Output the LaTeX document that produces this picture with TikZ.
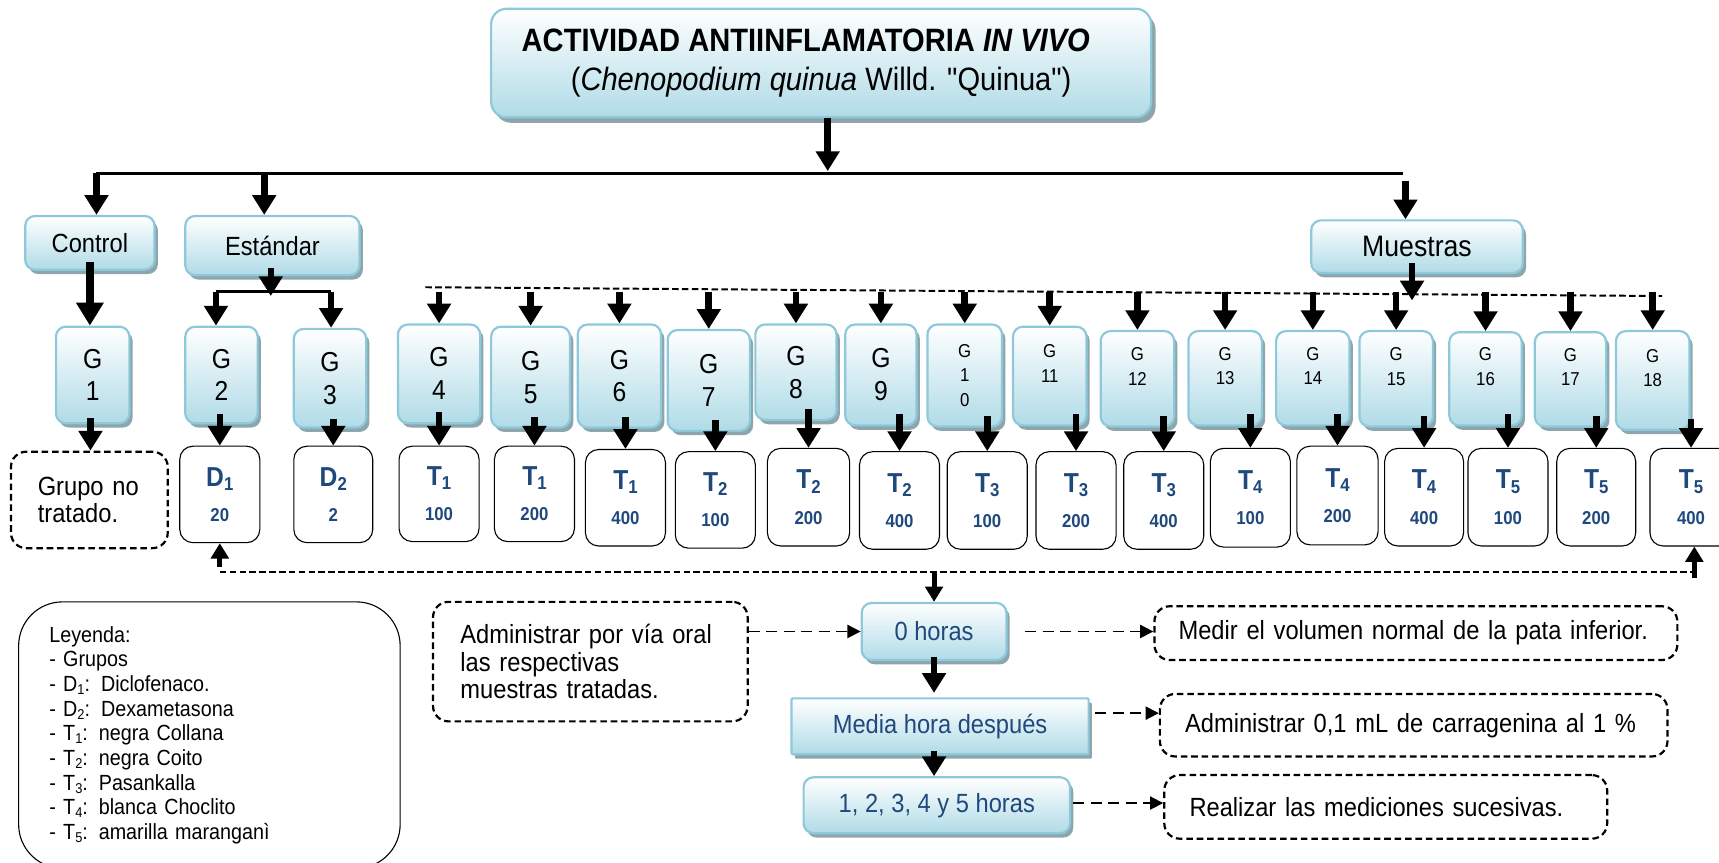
\documentclass[tikz,border=0pt]{standalone}
\usepackage{fontspec}
\setmainfont{Liberation Sans}[FakeStretch=0.9, Ligatures=TeXOff]
\usetikzlibrary{arrows.meta,shadows,calc}

\definecolor{boxline}{RGB}{141,201,218}
\definecolor{boxbot}{RGB}{176,219,231}
\definecolor{boxshade}{RGB}{140,166,172}
\definecolor{labelblue}{RGB}{31,73,125}

\newcommand{\fs}[2]{\fontsize{#1}{#2}\selectfont}
\newcommand{\lowidx}[2]{\raisebox{-0.28ex}{\fs{#1}{#1}#2}}
\newcommand{\dose}[3]{{\fs{25}{32}#1\lowidx{17}{#2}}\\#3}
\newcommand{\leg}[2]{- #1\lowidx{13}{#2}:}

\tikzset{
  glossy/.style={draw=boxline, line width=2pt, rounded corners=9pt,
    top color=white, bottom color=boxbot,
    drop shadow={shadow xshift=3pt, shadow yshift=-4pt, fill=boxshade, opacity=1},
    inner sep=0pt, align=center},
  gbig/.style={glossy, font=\fs{25}{30}},
  gsmall/.style={glossy, font=\fs{17}{22.5}},
  hourbox/.style={glossy, text=labelblue, font=\fs{24}{28}},
  dosebox/.style={draw=black, line width=1pt, rounded corners=12pt, fill=white,
    inner sep=0pt, align=center, text=labelblue, font=\fs{17}{32}\bfseries},
  notebox/.style={draw=black, line width=2pt, dash pattern=on 6pt off 3.5pt,
    rounded corners=14pt, inner sep=0pt, align=left, font=\fs{24}{25}},
  legendbox/.style={draw=black, line width=1pt, rounded corners=40pt,
    inner sep=0pt, align=left, font=\fs{20}{22.5}},
  arr/.style={line width=6pt, -{Triangle[width=21pt,length=18pt]}},
  bigarr/.style={line width=8pt, -{Triangle[width=24pt,length=21pt]}},
  smallarr/.style={line width=4.5pt, -{Triangle[width=16pt,length=14pt]}},
  dotline/.style={line width=1.8pt, dash pattern=on 6pt off 3pt},
  darr/.style={line width=1.6pt, dash pattern=on 10pt off 6pt,
    -{Triangle[width=12pt,length=12pt]}}
}

\begin{document}
\begin{tikzpicture}[x=1pt,y=-1pt]
\useasboundingbox (0,0) rectangle (1568,787);

% title
\node[glossy, rounded corners=14pt, minimum width=602pt, minimum height=99pt,
  drop shadow={shadow xshift=4pt, shadow yshift=-5pt, fill=boxshade, opacity=1},
  font=\fs{29.5}{35}] (title) at (749,57.5)
  {\bfseries ACTIVIDAD ANTIINFLAMATORIA \textit{IN VIVO}\hspace*{28pt}\\
   (\textit{Chenopodium quinua} Willd. "Quinua")};

% first level
\node[glossy, font=\fs{24}{28}, minimum width=118pt, minimum height=49pt] (control) at (82,221.5) {Control};
\node[glossy, font=\fs{24}{28}, minimum width=159pt, minimum height=54pt] (std) at (248.5,224) {Estándar};
\node[glossy, font=\fs{27}{30}, minimum width=193pt, minimum height=48pt] (mue) at (1292.5,225) {Muestras};

% groups
\node[gbig, minimum width=67pt, minimum height=88pt] (g1) at (84.5,342) {G\\1};
\node[gbig, minimum width=66pt, minimum height=88pt] (g2) at (202,342) {G\\2};
\node[gbig, minimum width=66pt, minimum height=90pt] (g3) at (301,345) {G\\3};
\node[gbig, minimum width=75pt, minimum height=90pt] (g4) at (400.5,341) {G\\4};
\node[gbig, minimum width=72pt, minimum height=92pt] (g5) at (484,344) {G\\5};
\node[gbig, minimum width=76pt, minimum height=94pt] (g6) at (565,343) {G\\6};
\node[gbig, minimum width=75pt, minimum height=92pt] (g7) at (646.5,347) {G\\7};
\node[gbig, minimum width=74pt, minimum height=87pt] (g8) at (726,339.5) {G\\8};
\node[gbig, minimum width=65pt, minimum height=92pt] (g9) at (803.5,342) {G\\9};
\node[gsmall, minimum width=68pt, minimum height=93pt] (g10) at (880,342.5) {G\\1\\0};
\node[gsmall, minimum width=67pt, minimum height=90pt] (g11) at (957.5,343) {G\\11\\\mbox{}};
\node[gsmall, minimum width=67pt, minimum height=87pt] (g12) at (1037.5,345.5) {G\\12\\\mbox{}};
\node[gsmall, minimum width=67pt, minimum height=86pt] (g13) at (1117.5,345) {G\\13\\\mbox{}};
\node[gsmall, minimum width=67pt, minimum height=86pt] (g14) at (1197.5,345) {G\\14\\\mbox{}};
\node[gsmall, minimum width=67pt, minimum height=87pt] (g15) at (1273.5,345.5) {G\\15\\\mbox{}};
\node[gsmall, minimum width=66pt, minimum height=85pt] (g16) at (1355,345.5) {G\\16\\\mbox{}};
\node[gsmall, minimum width=65pt, minimum height=86pt] (g17) at (1432.5,346) {G\\17\\\mbox{}};
\node[gsmall, minimum width=67pt, minimum height=90pt] (g18) at (1507.5,347) {G\\18\\\mbox{}};

% untreated group
\node[notebox, minimum width=143pt, minimum height=88pt, text width=94pt] (gnt) at (81.5,456) {Grupo\ no\\tratado.};

% doses
\node[dosebox, minimum width=73pt, minimum height=88pt] (d1) at (200.5,451) {\dose{D}{1}{20}};
\node[dosebox, minimum width=72pt, minimum height=88pt] (d2) at (304,451) {\dose{D}{2}{2}};
\node[dosebox, minimum width=73pt, minimum height=87pt] (t4) at (400.5,450.5) {\dose{T}{1}{100}};
\node[dosebox, minimum width=73pt, minimum height=87pt] (t5) at (487.5,450.5) {\dose{T}{1}{200}};
\node[dosebox, minimum width=73pt, minimum height=88pt] (t6) at (570.5,454) {\dose{T}{1}{400}};
\node[dosebox, minimum width=73pt, minimum height=88pt] (t7) at (652.5,456) {\dose{T}{2}{100}};
\node[dosebox, minimum width=75pt, minimum height=89pt] (t8) at (737.5,453.5) {\dose{T}{2}{200}};
\node[dosebox, minimum width=73pt, minimum height=89pt] (t9) at (820.5,456.5) {\dose{T}{2}{400}};
\node[dosebox, minimum width=73pt, minimum height=89pt] (t10) at (900.5,456.5) {\dose{T}{3}{100}};
\node[dosebox, minimum width=73pt, minimum height=89pt] (t11) at (981.5,456.5) {\dose{T}{3}{200}};
\node[dosebox, minimum width=73pt, minimum height=89pt] (t12) at (1061.5,456.5) {\dose{T}{3}{400}};
\node[dosebox, minimum width=73pt, minimum height=90pt] (t13) at (1140.5,454) {\dose{T}{4}{100}};
\node[dosebox, minimum width=74pt, minimum height=90pt] (t14) at (1220,452) {\dose{T}{4}{200}};
\node[dosebox, minimum width=72pt, minimum height=89pt] (t15) at (1299,453.5) {\dose{T}{4}{400}};
\node[dosebox, minimum width=73pt, minimum height=89pt] (t16) at (1375.5,453.5) {\dose{T}{5}{100}};
\node[dosebox, minimum width=72pt, minimum height=89pt] (t17) at (1456,453.5) {\dose{T}{5}{200}};
\node[dosebox, minimum width=75pt, minimum height=89pt] (t18) at (1542.5,453.5) {\dose{T}{5}{400}};

% time line
\node[hourbox, minimum width=132pt, minimum height=52pt] (h0) at (852,576) {0 horas};
\node[hourbox, rounded corners=1pt, minimum width=271pt, minimum height=51pt] (hm) at (857.5,662.5) {Media hora después};
\node[hourbox, minimum width=243pt, minimum height=51pt] (h15) at (854.5,734.5) {1, 2, 3, 4 y 5 horas};

% notes
\node[notebox, minimum width=287pt, minimum height=109pt, text width=237pt] (adm) at (538.5,603.5)
  {Administrar por vía oral\\las respectivas\\muestras tratadas.};
\node[notebox, minimum width=477pt, minimum height=49pt, text width=433pt] (med) at (1291.5,577.5)
  {Medir el volumen normal de la pata inferior.};
\node[notebox, minimum width=463pt, minimum height=57pt, text width=417pt] (car) at (1289.5,661.5)
  {Administrar 0,1 mL de carragenina al 1 \%};
\node[notebox, minimum width=404pt, minimum height=58pt, text width=358pt] (rea) at (1264,736)
  {Realizar las mediciones sucesivas.};

% legend
\node[legendbox, minimum width=348pt, minimum height=243pt, text width=292pt] (leg) at (191,670.5)
  {Leyenda:\\- Grupos\\\leg{D}{1} Diclofenaco.\\\leg{D}{2} Dexametasona\\
   \leg{T}{1} negra Collana\\\leg{T}{2} negra Coito\\\leg{T}{3} Pasankalla\\
   \leg{T}{4} blanca Choclito\\\leg{T}{5} amarilla maranganì};

% connectors: title to the three branches
\coordinate (hub) at (755,156);
\coordinate (hl) at (88,158);
\coordinate (hs) at (241,158);
\coordinate (hr) at (1280,158);
\draw[arr] (title.south -| hub) -- (hub);
\draw[line width=3pt] (hl) -- (hr);
\draw[arr] (hl) -- (hl |- control.north);
\draw[arr] (hs) -- (hs |- std.north);
\draw[arr] ($(hr)+(2,7)$) coordinate (mtop) -- (mtop |- mue.north);

% control branch
\draw[bigarr] ($(control.south)+(0,-8)$) -- (control.south |- g1.north);
\draw[arr] ($(g1.south)+(-2,-6)$) coordinate (gtop) -- (gtop |- gnt.north);

% standard branch
\coordinate (sj) at (247,270);
\coordinate (sjl) at (197,266);
\coordinate (sjr) at (302,266);
\draw[arr] ($(std.south -| sj)+(0,-8)$) -- (sj);
\draw[line width=2.5pt] (sjl) -- (sjr);
\draw[arr] (sjl) -- (sjl |- g2.north);
\draw[arr] (sjr) -- (sjr |- g3.north);
\draw[arr] ($(d1.north |- g2.south)+(0,-9)$) -- (d1.north);
\draw[arr] ($(d2.north |- g3.south)+(0,-9)$) -- (d2.north);

% samples branch
\coordinate (sl) at (388,262);
\coordinate (sr) at (1516,270);
\coordinate (mj) at (1288,274);
\draw[dotline] (sl) -- (sr);
\draw[arr] ($(mue.south -| mj)+(0,-10)$) -- (mj);
\foreach \n in {4,...,18}{
  \draw[arr] ($(g\n.north |- sl)+(0,4)$) -- (g\n.north);
  \draw[arr] ($(t\n.north |- g\n.south)+(0,-11)$) -- (t\n.north);
}

% all groups to the time line
\coordinate (bl) at (200.5,522);
\coordinate (br) at (1548,522);
\draw[dotline] (bl) -- (br);
\draw[smallarr] ($(d1.south |- bl)+(0,-5)$) -- (d1.south);
\draw[smallarr] ($(t18.south |- br)+(3,5)$) coordinate (rup) -- (rup |- t18.south);
\draw[smallarr] (h0.north |- bl) -- (h0.north);

% time line steps
\draw[arr] ($(h0.south)+(0,-4)$) -- ($(h0.south |- hm.north)+(0,-4)$);
\draw[arr] ($(hm.south -| h0.south)+(0,-4)$) -- (h0.south |- h15.north);

% dashed notes
\draw[darr] (adm.east |- h0.west) -- (h0.west);
\draw[darr] ($(h0.east)+(16,0)$) -- (h0.east -| med.west);
\draw[darr] ($(hm.east)+(5,-12)$) coordinate (c2) -- (c2 -| car.west);
\draw[darr] ($(h15.east)+(2,-2)$) coordinate (c3) -- (c3 -| rea.west);
\end{tikzpicture}
\end{document}
